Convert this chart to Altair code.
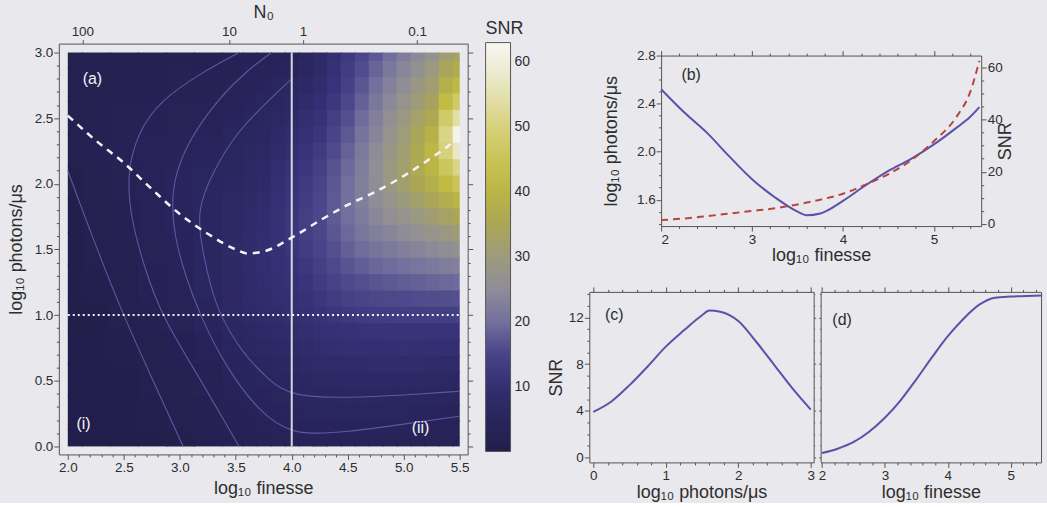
import altair as alt
import pandas as pd

FONT = "Liberation Sans"
INK = "#2e2e2e"
FRAME = "#555555"
PAGE = "#e8e8ed"
LINE_BLUE = "#5a52aa"
LINE_RED = "#b4463f"
OVERLAY = "#f4f4f8"
CONTOUR = "#625eaa"

# ---------------------------------------------------------------- panel (a)
# SNR map. Each inner list is one column of constant log10 finesse,
# running from log10 photons/us = 0 (first entry) up to 3 (last entry).
# Low-finesse part on a 0.25 grid ...
coarse_finesse = [2.0, 2.25, 2.5, 2.75, 3.0, 3.25]
coarse_photons = [0.0, 0.25, 0.5, 0.75, 1.0, 1.25, 1.5, 1.75, 2.0, 2.25, 2.5, 2.75, 3.0]
coarse_snr = [
    [0.15, 0.2, 0.25, 0.3, 0.4, 0.55, 0.7, 0.9, 1.15, 1.35, 1.5, 1.45, 1.35],
    [0.25, 0.35, 0.45, 0.6, 0.8, 1.0, 1.25, 1.6, 1.95, 2.15, 2.15, 2.0, 1.8],
    [0.45, 0.6, 0.8, 1.05, 1.35, 1.7, 2.1, 2.5, 2.85, 3.0, 2.85, 2.55, 2.2],
    [0.8, 1.0, 1.3, 1.75, 2.3, 2.9, 3.4, 3.8, 4.0, 3.75, 3.2, 2.6, 1.9],
    [1.2, 1.5, 2.0, 2.6, 3.4, 4.1, 4.7, 5.0, 4.9, 4.4, 3.6, 2.7, 2.0],
    [1.8, 2.3, 3.0, 4.0, 5.0, 5.7, 6.1, 6.2, 5.8, 5.0, 4.1, 3.1, 2.3],
]
# ... and the high-finesse part on a 0.125 grid
fine_finesse = [3.5, 3.625, 3.75, 3.875, 4.0, 4.125, 4.25, 4.375, 4.5,
                4.625, 4.75, 4.875, 5.0, 5.125, 5.25, 5.375, 5.5]
fine_photons = [0.0, 0.125, 0.25, 0.375, 0.5, 0.625, 0.75, 0.875, 1.0, 1.125, 1.25, 1.375, 1.5,
                1.625, 1.75, 1.875, 2.0, 2.125, 2.25, 2.375, 2.5, 2.625, 2.75, 2.875, 3.0]
fine_snr = [
    [2.6, 2.95, 3.3, 3.8, 4.3, 4.95, 5.6, 6.25, 6.8, 7.1, 7.3, 7.45, 7.5, 7.45, 7.3, 7.0, 6.6, 6.1, 5.6, 5.1, 4.6, 4.1, 3.6, 3.2, 2.8],
    [2.95, 3.35, 3.75, 4.3, 4.8, 5.5, 6.25, 7.0, 7.7, 8.05, 8.3, 8.45, 8.5, 8.4, 8.25, 7.9, 7.45, 6.9, 6.3, 5.75, 5.2, 4.65, 4.1, 3.7, 3.25],
    [3.3, 3.75, 4.2, 4.75, 5.3, 6.1, 6.9, 7.8, 8.6, 9.0, 9.3, 9.45, 9.5, 9.4, 9.2, 8.8, 8.3, 7.65, 7.0, 6.4, 5.8, 5.2, 4.6, 4.15, 3.7],
    [3.6, 4.1, 4.55, 5.1, 5.75, 6.55, 7.35, 8.25, 9.1, 9.6, 10.1, 10.5, 10.85, 11.0, 10.85, 10.5, 10.0, 9.3, 8.45, 7.65, 6.85, 6.05, 5.25, 4.55, 3.9],
    [3.9, 4.4, 4.9, 5.5, 6.2, 7.0, 7.8, 8.7, 9.6, 10.25, 10.9, 11.6, 12.2, 12.6, 12.5, 12.2, 11.7, 10.9, 9.9, 8.9, 7.9, 6.9, 5.9, 5.0, 4.1],
    [3.9, 4.5, 5.1, 5.8, 6.6, 7.5, 8.5, 9.6, 10.7, 11.5, 12.2, 12.95, 13.6, 14.0, 14.0, 13.8, 13.35, 12.6, 11.7, 10.7, 9.7, 8.55, 7.45, 6.6, 5.8],
    [3.9, 4.6, 5.3, 6.1, 7.0, 8.05, 9.2, 10.5, 11.8, 12.7, 13.5, 14.3, 15.0, 15.35, 15.5, 15.35, 15.0, 14.3, 13.5, 12.5, 11.5, 10.2, 9.0, 8.2, 7.5],
    [3.85, 4.55, 5.3, 6.2, 7.15, 8.3, 9.6, 11.0, 12.45, 13.6, 14.65, 15.7, 16.65, 17.3, 17.65, 17.7, 17.4, 16.8, 16.0, 15.0, 14.0, 12.85, 11.75, 10.95, 10.25],
    [3.8, 4.5, 5.3, 6.25, 7.3, 8.6, 10.0, 11.5, 13.1, 14.5, 15.8, 17.1, 18.3, 19.2, 19.8, 20.0, 19.8, 19.3, 18.5, 17.5, 16.5, 15.5, 14.5, 13.7, 13.0],
    [3.75, 4.45, 5.25, 6.25, 7.35, 8.7, 10.15, 11.75, 13.4, 14.95, 16.5, 18.05, 19.55, 20.85, 21.9, 22.5, 22.65, 22.3, 21.6, 20.6, 19.5, 18.4, 17.25, 16.2, 15.25],
    [3.7, 4.4, 5.2, 6.25, 7.4, 8.8, 10.3, 12.0, 13.7, 15.4, 17.2, 19.0, 20.8, 22.5, 24.0, 25.0, 25.5, 25.3, 24.7, 23.7, 22.5, 21.3, 20.0, 18.7, 17.5],
    [3.65, 4.35, 5.15, 6.2, 7.4, 8.8, 10.35, 12.05, 13.8, 15.65, 17.6, 19.6, 21.65, 23.7, 25.65, 27.4, 28.75, 28.8, 28.1, 27.05, 25.75, 24.3, 22.75, 21.25, 19.75],
    [3.6, 4.3, 5.1, 6.2, 7.4, 8.85, 10.4, 12.1, 13.9, 15.9, 18.0, 20.2, 22.5, 24.9, 27.3, 29.8, 32.0, 32.3, 31.5, 30.4, 29.0, 27.3, 25.5, 23.8, 22.0],
    [3.55, 4.2, 5.0, 6.1, 7.3, 8.8, 10.35, 12.1, 13.95, 16.1, 18.4, 20.9, 23.5, 26.3, 29.15, 32.2, 35.0, 36.15, 36.0, 34.55, 32.5, 30.55, 28.5, 26.5, 24.5],
    [3.5, 4.15, 4.9, 6.0, 7.2, 8.7, 10.3, 12.1, 14.0, 16.3, 18.8, 21.6, 24.5, 27.7, 31.0, 34.6, 38.0, 40.0, 40.5, 38.7, 36.0, 33.8, 31.5, 29.2, 27.0],
    [3.4, 4.0, 4.65, 5.65, 6.85, 8.35, 10.05, 11.9, 14.0, 16.45, 19.15, 22.2, 25.5, 29.1, 33.0, 37.3, 41.5, 46.0, 50.0, 51.0, 47.5, 42.5, 38.0, 34.5, 31.0],
    [3.3, 3.8, 4.4, 5.3, 6.5, 8.0, 9.8, 11.7, 14.0, 16.6, 19.5, 22.8, 26.5, 30.5, 35.0, 40.0, 45.0, 51.0, 57.0, 62.0, 54.0, 47.0, 41.0, 37.0, 33.0],
]

# iso-SNR lines in the low-signal part of the map (finesse, photons pairs)
contour_finesse = [
    [2.0, 2.23, 2.5, 2.73, 3.03],
    [3.53, 3.18, 2.82, 2.62, 2.53, 2.56, 2.68, 2.84, 3.15, 3.53],
    [3.82, 3.55, 3.25, 3.03, 2.92, 2.95, 3.05, 3.18, 3.4, 3.7, 4.0, 4.5, 5.0, 5.5],
    [4.0, 3.75, 3.5, 3.3, 3.15, 3.2, 3.28, 3.36, 3.55, 3.8, 4.0, 4.5, 5.0, 5.5],
]
contour_photons = [
    [2.10, 1.57, 0.99, 0.56, 0.0],
    [3.0, 2.84, 2.63, 2.38, 2.08, 1.75, 1.37, 0.99, 0.56, 0.0],
    [3.0, 2.83, 2.55, 2.25, 1.95, 1.6, 1.3, 1.0, 0.62, 0.27, 0.08, 0.11, 0.17, 0.23],
    [2.8, 2.6, 2.38, 2.1, 1.8, 1.5, 1.2, 1.0, 0.72, 0.5, 0.38, 0.37, 0.39, 0.42],
]

# cuts through the map shown in panels (c) and (d)
cut_at_finesse = 4.0
cut_at_photons = 1.0

# N0 scale along the top of the map
n0_labels = ["100", "10", "1", "0.1"]
n0_finesse = [2.13, 3.44, 4.10, 5.12]

# colour bar
snr_stops = [0, 6, 12, 16, 20, 25, 30, 35, 42, 50, 57, 63]
snr_colors = ["#221e4a", "#2a2660", "#38337a", "#4e4a8c", "#74709e", "#8f8d98",
              "#9d9b7c", "#aaa656", "#c2bb40", "#d6d17c", "#e9e7c6", "#f7f7f4"]
snr_ticks = [10, 20, 30, 40, 50, 60]

# panel tags inside the map
a_tags = ["(a)", "(i)", "(ii)"]
a_tag_finesse = [2.22, 2.14, 5.15]
a_tag_photons = [2.80, 0.17, 0.14]

# ---------------------------------------------------------------- panel (b)
opt_finesse = [2.0, 2.25, 2.5, 2.75, 3.0, 3.25, 3.5, 3.6, 3.75, 4.0, 4.25, 4.5, 4.75, 5.0, 5.25, 5.4, 5.5]
opt_photons = [2.52, 2.33, 2.16, 1.96, 1.77, 1.62, 1.50, 1.47, 1.485, 1.59, 1.72, 1.84, 1.94, 2.06, 2.20, 2.29, 2.37]
opt_snr = [1.5, 2.1, 3.0, 4.0, 5.0, 6.0, 7.5, 8.2, 9.3, 11.6, 15.1, 19.1, 24.4, 31.7, 41.1, 50.6, 62.5]

# ---------------------------------------------------------------- panel (c)
cut_photons = [0.0, 0.25, 0.5, 0.75, 1.0, 1.25, 1.5, 1.6, 1.75, 2.0, 2.25, 2.5, 2.75, 3.0]
cut_snr_photons = [3.9, 4.8, 6.2, 7.8, 9.5, 10.9, 12.2, 12.6, 12.5, 11.7, 9.9, 7.9, 5.9, 4.1]

# ---------------------------------------------------------------- panel (d)
cut_finesse = [2.0, 2.25, 2.5, 2.75, 3.0, 3.25, 3.5, 3.75, 4.0, 4.25, 4.5, 4.75, 5.0, 5.25, 5.5]
cut_snr_finesse = [0.37, 0.74, 1.3, 2.2, 3.4, 4.9, 6.7, 8.6, 10.4, 11.9, 13.1, 13.7, 13.8, 13.85, 13.9]


def frange(lo, hi, step):
    n = int(round((hi - lo) / step))
    return [round(lo + i * step, 6) for i in range(n + 1)]


def ticked_axis(major, minor_step, fmt, title=None, orient="bottom", labels=True,
                major_len=5, minor_len=2.5, **extra):
    """Frame axis with labelled major ticks and short unlabelled minor ticks."""
    minor = frange(min(major) - 10 * minor_step, max(major) + 10 * minor_step, minor_step)
    values = sorted(set(round(v, 6) for v in list(major) + minor))
    is_major = " || ".join(f"abs(datum.value - {m}) < 1e-6" for m in major)
    return alt.Axis(
        values=values,
        labelExpr=f"({is_major}) ? format(datum.value, '{fmt}') : ''",
        tickSize={"condition": {"test": is_major, "value": major_len}, "value": minor_len},
        labels=labels,
        labelOverlap=False,
        title=title,
        orient=orient,
        **extra,
    )


def cell_edges(points, lo_bound, hi_bound, seam):
    """Cell extent around each grid node; interior cells reach a hair past
    their neighbour's edge so that anti-aliasing leaves no seams."""
    out = []
    for i, p in enumerate(points):
        lo = lo_bound if i == 0 else (points[i - 1] + p) / 2
        hi = hi_bound if i == len(points) - 1 else (p + points[i + 1]) / 2 + seam
        out.append((lo, hi))
    return out


def map_cells(fin, pho, columns, fin_bounds):
    rows = []
    fx = cell_edges(fin, fin_bounds[0], fin_bounds[1], 0.01)
    py = cell_edges(pho, pho[0], pho[-1], 0.008)
    for j, col in enumerate(columns):
        for i, v in enumerate(col):
            rows.append({"x0": fx[j][0], "x1": fx[j][1], "y0": py[i][0], "y1": py[i][1], "snr": v})
    return rows


split = (coarse_finesse[-1] + fine_finesse[0]) / 2
cells = pd.DataFrame(
    map_cells(coarse_finesse, coarse_photons, coarse_snr, (coarse_finesse[0], split + 0.01))
    + map_cells(fine_finesse, fine_photons, fine_snr, (split, fine_finesse[-1]))
)

xa = alt.Scale(domain=[1.92, 5.571], nice=False, zero=False)
ya = alt.Scale(domain=[-0.061, 3.068], nice=False, zero=False)
snr_scale = alt.Scale(domain=snr_stops, range=snr_colors, clamp=True, interpolate="rgb")

snr_legend = alt.Legend(
    type="gradient", title="SNR", orient="none", legendX=428, legendY=-24, direction="vertical",
    gradientLength=410, gradientThickness=25, values=snr_ticks,
    labelFontSize=14, titleFontSize=18, titleFontWeight="normal", titleColor=INK,
    labelColor=INK, gradientStrokeColor=FRAME, gradientStrokeWidth=1,
    labelOffset=4, titlePadding=5, padding=0, labelFont=FONT, titleFont=FONT,
)

heat = alt.Chart(cells).mark_rect().encode(
    x=alt.X("x0:Q", scale=xa, axis=ticked_axis(frange(2.0, 5.5, 0.5), 0.1, ".1f", "log₁₀ finesse", "bottom",
                                                titlePadding=6)),
    x2="x1:Q",
    y=alt.Y("y0:Q", scale=ya, axis=ticked_axis(frange(0.0, 3.0, 0.5), 0.1, ".1f", "log₁₀ photons/μs", "left",
                                                titlePadding=9)),
    y2="y1:Q",
    color=alt.Color("snr:Q", scale=snr_scale, legend=snr_legend),
)

contour_rows = []
for k, (cf, cp) in enumerate(zip(contour_finesse, contour_photons)):
    for i, (f, p) in enumerate(zip(cf, cp)):
        contour_rows.append({"line": k, "step": i, "finesse": f, "photons": p})
contours = alt.Chart(pd.DataFrame(contour_rows)).mark_line(
    color=CONTOUR, strokeWidth=1.1, opacity=0.9, interpolate="basis"
).encode(
    x=alt.X("finesse:Q", scale=xa, axis=None),
    y=alt.Y("photons:Q", scale=ya, axis=None),
    detail="line:N",
    order="step:Q",
)

n0_expr = " : ".join(f"abs(datum.value - {p}) < 1e-6 ? '{t}'" for p, t in zip(n0_finesse, n0_labels)) + " : ''"
vcut = alt.Chart(pd.DataFrame({"x": [cut_at_finesse], "y0": [fine_photons[0]], "y1": [fine_photons[-1]]})).mark_rule(
    color="#d6d6de", strokeWidth=2
).encode(
    x=alt.X("x:Q", scale=xa, axis=alt.Axis(orient="top", values=n0_finesse, labelExpr=n0_expr,
                                            title="N₀", tickSize=4, labelPadding=1, titlePadding=3)),
    y=alt.Y("y0:Q", scale=ya, axis=ticked_axis(frange(0.0, 3.0, 0.5), 0.1, ".1f", None, "right", labels=False)),
    y2="y1:Q",
)

hcut = alt.Chart(pd.DataFrame({"y": [cut_at_photons], "x0": [coarse_finesse[0]], "x1": [fine_finesse[-1]]})).mark_rule(
    color=OVERLAY, strokeWidth=2, strokeDash=[2, 3]
).encode(
    x=alt.X("x0:Q", scale=xa, axis=None), x2="x1:Q", y=alt.Y("y:Q", scale=ya, axis=None)
)

opt_df = pd.DataFrame({"finesse": opt_finesse, "photons": opt_photons, "snr": opt_snr})
ridge = alt.Chart(opt_df).mark_line(color=OVERLAY, strokeWidth=2.5, strokeDash=[7, 6], interpolate="monotone").encode(
    x=alt.X("finesse:Q", scale=xa, axis=None), y=alt.Y("photons:Q", scale=ya, axis=None)
)

a_tag_df = pd.DataFrame({"t": a_tags, "x": a_tag_finesse, "y": a_tag_photons})
a_text = alt.Chart(a_tag_df).mark_text(color=OVERLAY, fontSize=16, font=FONT).encode(
    x=alt.X("x:Q", scale=xa, axis=None), y=alt.Y("y:Q", scale=ya, axis=None), text="t:N"
)

panel_a = alt.layer(heat, contours, vcut, hcut, ridge, a_text).resolve_axis(
    x="independent", y="independent"
).properties(width=410, height=412)

# ---------------------------------------------------------------- panel (b)
xb = alt.Scale(domain=[2.0, 5.52], nice=False, zero=False)
yb = alt.Scale(domain=[1.38, 2.8], nice=False, zero=False)
yb2 = alt.Scale(domain=[-0.8, 64.5], nice=False, zero=False)

b_blue = alt.Chart(opt_df).mark_line(color=LINE_BLUE, strokeWidth=2, interpolate="monotone").encode(
    x=alt.X("finesse:Q", scale=xb, axis=ticked_axis([2, 3, 4, 5], 0.2, "d", "log₁₀ finesse", "bottom",
                                                     titlePadding=1)),
    y=alt.Y("photons:Q", scale=yb, axis=ticked_axis([1.6, 2.0, 2.4, 2.8], 0.1, ".1f", "log₁₀ photons/μs", "left",
                                                     titlePadding=16)),
)
b_red = alt.Chart(opt_df).mark_line(color=LINE_RED, strokeWidth=2, strokeDash=[7, 5], interpolate="monotone").encode(
    x=alt.X("finesse:Q", scale=xb, axis=ticked_axis([2, 3, 4, 5], 0.2, "d", None, "top", labels=False)),
    y=alt.Y("snr:Q", scale=yb2, axis=ticked_axis([0, 20, 40, 60], 5, "d", "SNR", "right", titleAngle=270,
                                                 titlePadding=12)),
)
b_text = alt.Chart(pd.DataFrame({"t": ["(b)"], "x": [2.33], "y": [2.64]})).mark_text(
    color=INK, fontSize=16, font=FONT
).encode(x=alt.X("x:Q", scale=xb, axis=None), y=alt.Y("y:Q", scale=yb, axis=None), text="t:N")

panel_b = alt.layer(b_blue, b_red, b_text).resolve_scale(y="independent").resolve_axis(
    x="independent", y="independent"
).properties(width=321, height=171)


def blank(w, h):
    """Invisible cell used only to offset neighbouring panels."""
    return alt.Chart(pd.DataFrame({"v": [0]})).mark_point(opacity=0).encode(
        x=alt.X("v:Q", axis=None), y=alt.Y("v:Q", axis=None)
    ).properties(width=w, height=h, view=alt.ViewBackground(strokeOpacity=0))


# ---------------------------------------------------------------- panels (c), (d)
ysnr = alt.Scale(domain=[-0.43, 14.2], nice=False, zero=False)
xc = alt.Scale(domain=[-0.055, 3.04], nice=False, zero=False)
xd = alt.Scale(domain=[1.98, 5.48], nice=False, zero=False)

c_df = pd.DataFrame({"photons": cut_photons, "snr": cut_snr_photons})
c_line = alt.Chart(c_df).mark_line(color=LINE_BLUE, strokeWidth=2, interpolate="monotone").encode(
    x=alt.X("photons:Q", scale=xc, axis=ticked_axis([0, 1, 2, 3], 0.2, "d", "log₁₀ photons/μs", "bottom",
                                                     titlePadding=2)),
    y=alt.Y("snr:Q", scale=ysnr, axis=ticked_axis([0, 4, 8, 12], 1, "d", "SNR", "left", titlePadding=3)),
)
c_frame = alt.Chart(c_df).mark_line(opacity=0).encode(
    x=alt.X("photons:Q", scale=xc, axis=ticked_axis([0, 1, 2, 3], 0.2, "d", None, "top", labels=False)),
    y=alt.Y("snr:Q", scale=ysnr, axis=ticked_axis([0, 4, 8, 12], 1, "d", None, "right", labels=False,
                                                   major_len=2, minor_len=1)),
)
c_text = alt.Chart(pd.DataFrame({"t": ["(c)"], "x": [0.29], "y": [12.25]})).mark_text(
    color=INK, fontSize=16, font=FONT
).encode(x=alt.X("x:Q", scale=xc, axis=None), y=alt.Y("y:Q", scale=ysnr, axis=None), text="t:N")
panel_c = alt.layer(c_line, c_frame, c_text).resolve_axis(x="independent", y="independent").properties(
    width=225, height=171
)

d_df = pd.DataFrame({"finesse": cut_finesse, "snr": cut_snr_finesse})
d_line = alt.Chart(d_df).mark_line(color=LINE_BLUE, strokeWidth=2, interpolate="monotone").encode(
    x=alt.X("finesse:Q", scale=xd, axis=ticked_axis([2, 3, 4, 5], 0.2, "d", "log₁₀ finesse", "bottom",
                                                     titlePadding=2)),
    y=alt.Y("snr:Q", scale=ysnr, axis=ticked_axis([0, 4, 8, 12], 1, "d", None, "left", labels=False,
                                                   major_len=2, minor_len=1)),
)
d_frame = alt.Chart(d_df).mark_line(opacity=0).encode(
    x=alt.X("finesse:Q", scale=xd, axis=ticked_axis([2, 3, 4, 5], 0.2, "d", None, "top", labels=False)),
    y=alt.Y("snr:Q", scale=ysnr, axis=None),
)
d_text = alt.Chart(pd.DataFrame({"t": ["(d)"], "x": [2.32], "y": [11.8]})).mark_text(
    color=INK, fontSize=16, font=FONT
).encode(x=alt.X("x:Q", scale=xd, axis=None), y=alt.Y("y:Q", scale=ysnr, axis=None), text="t:N")
panel_d = alt.layer(d_line, d_frame, d_text).resolve_axis(x="independent", y="independent").properties(
    width=221, height=171
)

right = alt.vconcat(
    blank(10, 1),
    alt.vconcat(
        alt.hconcat(blank(12, 10), panel_b, spacing=0),
        alt.hconcat(panel_c, panel_d, spacing=0),
        spacing=21,
    ),
    spacing=0,
)

chart = alt.hconcat(panel_a, right, spacing=73).configure_view(
    stroke=FRAME, strokeWidth=1
).configure_axis(
    labelFont=FONT, titleFont=FONT, labelFontSize=13.5, titleFontSize=18, titleFontWeight="normal",
    labelColor=INK, titleColor=INK, tickColor=FRAME, domain=False, grid=False, labelPadding=1,
).configure_title(font=FONT).properties(background=PAGE, padding={"left": 6, "top": 2, "right": 0, "bottom": 0})

chart.save("out.html", embed_options={"renderer": "svg", "actions": False})
